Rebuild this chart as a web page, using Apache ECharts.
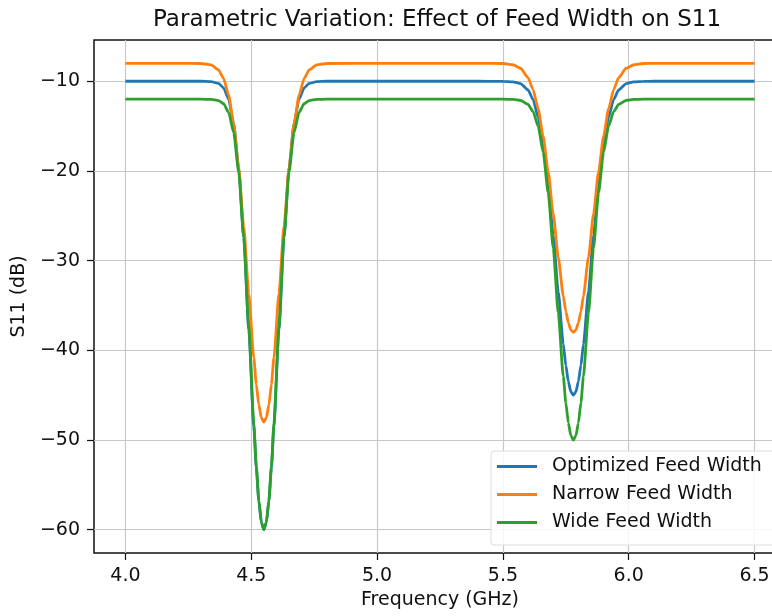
<!DOCTYPE html>
<html>
<head>
<meta charset="utf-8">
<script src="https://cdn.jsdelivr.net/npm/echarts@6/dist/echarts.min.js"></script>
<style>
  html, body { margin: 0; padding: 0; background: #fff; overflow: hidden; }
  /* the axes run past the right edge of the 772px window, as in the reference */
  #chart { width: 800px; height: 616px; }
</style>
</head>
<body>
<div id="chart"></div>
<script>
// frequency samples (GHz), denser around the two resonances
const freq = [4.0, 4.1, 4.2, 4.3, 4.34, 4.37, 4.39, 4.41, 4.43, 4.45, 4.47, 4.49, 4.51, 4.52, 4.53, 4.54, 4.55, 4.56, 4.57, 4.58, 4.59, 4.61, 4.63, 4.65, 4.67, 4.69, 4.71, 4.73, 4.76, 4.8,
  5.0, 5.2, 5.4,
  5.5, 5.54, 5.57, 5.6, 5.62, 5.64, 5.66, 5.68, 5.7, 5.72, 5.74, 5.75, 5.76, 5.77, 5.78, 5.79, 5.8, 5.81, 5.82, 5.84, 5.86, 5.88, 5.9, 5.92, 5.94, 5.96, 5.99, 6.02, 6.06, 6.1, 6.3, 6.5]

const optimizedS11 = [-10, -10, -10, -10, -10.04, -10.24, -10.74, -12.0, -14.69, -19.66, -27.47, -37.67, -48.44, -53.12, -56.82, -59.18, -60, -59.18, -56.82, -53.12, -48.44, -37.67, -27.47, -19.66, -14.69, -12.0, -10.74, -10.24, -10.04, -10,
  -10, -10, -10,
  -10.01, -10.06, -10.26, -10.97, -12.05, -13.99, -17.09, -21.56, -27.22, -33.49, -39.31, -41.68, -43.48, -44.62, -45, -44.62, -43.48, -41.68, -39.31, -33.49, -27.22, -21.56, -17.09, -13.99, -12.05, -10.97, -10.26, -10.06, -10.01, -10, -10, -10]

const narrowS11 = [-8, -8, -8, -8.02, -8.17, -8.73, -9.70, -11.56, -14.76, -19.64, -26.15, -33.65, -40.83, -43.79, -46.07, -47.51, -48, -47.51, -46.07, -43.79, -40.83, -33.65, -26.15, -19.64, -14.76, -11.56, -9.70, -8.73, -8.17, -8.02,
  -8, -8, -8,
  -8.02, -8.16, -8.55, -9.59, -10.94, -13.07, -16.13, -20.11, -24.79, -29.64, -33.95, -35.65, -36.93, -37.73, -38, -37.73, -36.93, -35.65, -33.95, -29.64, -24.79, -20.11, -16.13, -13.07, -10.94, -9.59, -8.55, -8.16, -8.02, -8, -8, -8]

const wideS11 = [-12, -12, -12, -12, -12.02, -12.15, -12.51, -13.47, -15.71, -20.11, -27.39, -37.31, -48.12, -52.90, -56.71, -59.15, -60, -59.15, -56.71, -52.90, -48.12, -37.31, -27.39, -20.11, -15.71, -13.47, -12.51, -12.15, -12.02, -12,
  -12, -12, -12,
  -12, -12.02, -12.13, -12.58, -13.39, -15.02, -17.92, -22.45, -28.63, -35.87, -42.91, -45.83, -48.09, -49.51, -50, -49.51, -48.09, -45.83, -42.91, -35.87, -28.63, -22.45, -17.92, -15.02, -13.39, -12.58, -12.13, -12.02, -12, -12, -12, -12]

const xTicks = [4.0, 4.5, 5.0, 5.5, 6.0, 6.5]
const yTicks = [-60, -50, -40, -30, -20, -10]

const seriesNames = ['Optimized Feed Width', 'Narrow Feed Width', 'Wide Feed Width']
const seriesData = [optimizedS11, narrowS11, wideS11]
const colors = ['#1f77b4', '#ff7f0e', '#2ca02c']

const font = 'DejaVu Sans'

const chart = echarts.init(document.getElementById('chart'), null, { renderer: 'canvas' })
chart.setOption({
  animation: false,
  color: colors,
  title: {
    text: 'Parametric Variation: Effect of Feed Width on S11',
    left: 148,
    top: 4,
    textStyle: { fontFamily: font, fontSize: 23, fontWeight: 'normal', color: '#111' }
  },
  legend: {
    orient: 'vertical',
    left: 491,
    top: 451,
    padding: [6, 20, 13, 6],
    itemGap: 9,
    itemWidth: 40,
    itemHeight: 3,
    icon: 'rect',
    backgroundColor: 'rgba(255,255,255,0.85)',
    borderColor: '#dcdcdc',
    borderWidth: 1,
    borderRadius: 3,
    textStyle: { fontFamily: font, fontSize: 19, color: '#111', padding: [0, 0, 0, 10] },
    data: seriesNames
  },
  grid: {
    left: 94,
    top: 40,
    width: 692,
    height: 513,
    show: true,
    borderColor: '#111',
    borderWidth: 1.5,
    containLabel: false,
    outerBoundsMode: 'none'
  },
  xAxis: {
    type: 'value',
    min: 3.875,
    max: 6.625,
    name: 'Frequency (GHz)',
    nameLocation: 'middle',
    nameGap: 38,
    nameTextStyle: { fontFamily: font, fontSize: 19, color: '#111' },
    axisLine: { show: false },
    axisTick: { show: true, length: 7, customValues: xTicks, lineStyle: { color: '#111', width: 1.2 } },
    axisLabel: {
      customValues: xTicks,
      margin: 14,
      fontFamily: font,
      fontSize: 19,
      color: '#111',
      formatter: v => v.toFixed(1)
    },
    splitLine: { show: true, lineStyle: { color: '#c8c8c8', width: 1.2 } }
  },
  yAxis: {
    type: 'value',
    min: -62.6,
    max: -5.4,
    name: 'S11 (dB)',
    nameLocation: 'middle',
    nameRotate: 90,
    nameGap: 58,
    nameTextStyle: { fontFamily: font, fontSize: 19, color: '#111' },
    axisLine: { show: false },
    axisTick: { show: true, length: 7, customValues: yTicks, lineStyle: { color: '#111', width: 1.2 } },
    axisLabel: {
      customValues: yTicks,
      margin: 14,
      fontFamily: font,
      fontSize: 19,
      color: '#111',
      formatter: v => String(v).replace('-', '\u2212')
    },
    splitLine: { show: true, lineStyle: { color: '#c8c8c8', width: 1.2 } }
  },
  series: seriesNames.map((name, i) => {
    return {
      name: name,
      type: 'line',
      data: freq.map((f, j) => [f, seriesData[i][j]]),
      showSymbol: false,
      smooth: 0.2,
      smoothMonotone: 'x',
      lineStyle: { width: 2.8 },
      emphasis: { disabled: true }
    }
  })
})
</script>
</body>
</html>
